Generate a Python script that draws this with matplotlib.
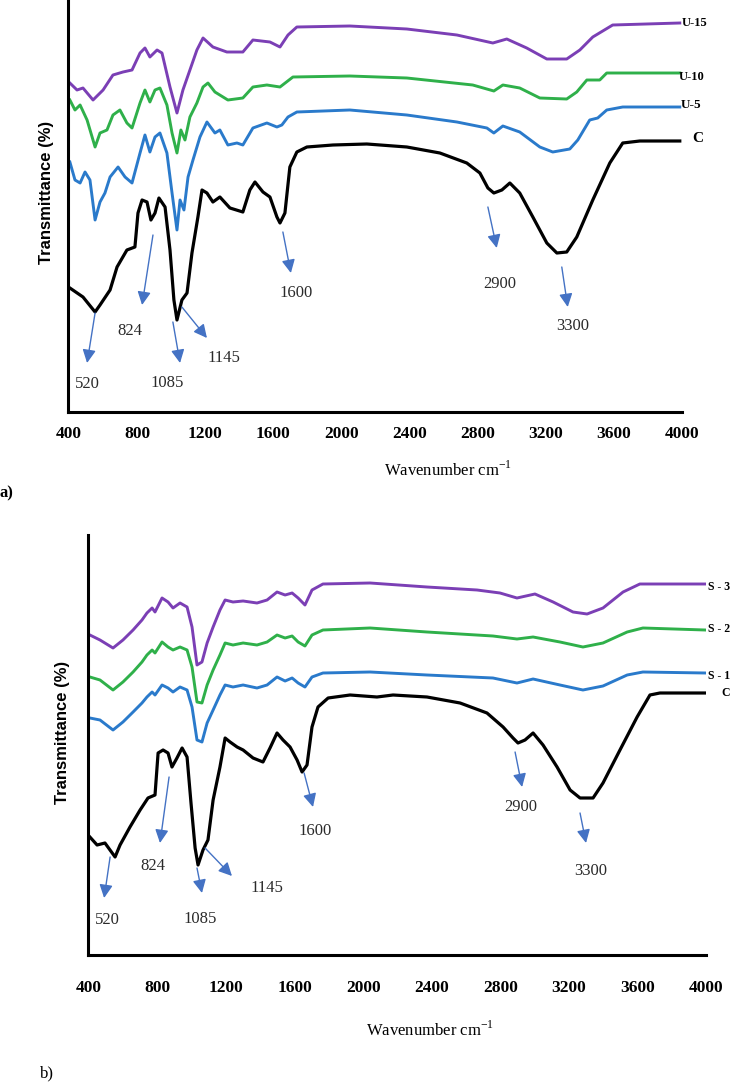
import numpy as np
import matplotlib
matplotlib.use("Agg")
from matplotlib import pyplot as plt

plt.rcParams['mathtext.fontset'] = 'custom'
plt.rcParams['mathtext.rm'] = 'Liberation Serif'
plt.rcParams['lines.solid_joinstyle'] = 'round'

# ---- panel a) : C, U-5, U-10, U-15  (wavenumber cm-1 / transmittance, a.u.)
wn_a_C = [405, 482, 553, 582, 641, 682, 740, 787, 805, 829, 858, 881, 905, 928, 964, 993, 1016, 1034,
          1063, 1093, 1122, 1157, 1181, 1210, 1245, 1286, 1345, 1421, 1462, 1492, 1539, 1580, 1621, 1639,
          1668, 1697, 1738, 1797, 1950, 2149, 2384, 2578, 2736, 2813, 2860, 2895, 2942, 2989, 3047, 3124,
          3206, 3265, 3323, 3382, 3476, 3576, 3652, 3752, 3987]
t_a_C = [124, 115, 100, 107, 122, 145, 162, 165, 199, 212, 210, 192, 199, 214, 205, 162, 112, 92,
         112, 119, 159, 195, 222, 219, 210, 215, 204, 200, 222, 230, 220, 215, 195, 189,
         199, 245, 260, 265, 267, 268, 265, 259, 249, 239, 224, 219, 222, 229, 219, 195,
         169, 159, 160, 175, 212, 249, 269, 271, 271]

wn_a_U5 = [405, 435, 465, 494, 523, 553, 582, 611, 641, 688, 729, 770, 817, 846, 875, 905, 934, 975,
           1005, 1034, 1052, 1075, 1099, 1128, 1169, 1210, 1257, 1286, 1333, 1386, 1421, 1480, 1562, 1621,
           1650, 1686, 1738, 2049, 2384, 2678, 2854, 2895, 2948, 3047, 3165, 3241, 3341, 3388, 3458, 3505,
           3558, 3652, 3987]
t_a_U5 = [250, 232, 229, 240, 232, 192, 210, 219, 235, 245, 235, 229, 259, 277, 260, 275, 279, 259,
          219, 182, 212, 202, 235, 252, 275, 290, 279, 282, 267, 269, 267, 284, 289, 285,
          287, 295, 300, 302, 297, 290, 284, 279, 286, 280, 265, 260, 263, 272, 292, 294,
          302, 305, 305]

wn_a_U10 = [405, 435, 465, 506, 553, 582, 623, 658, 699, 740, 770, 817, 846, 875, 905, 934, 975, 1005,
            1034, 1057, 1081, 1110, 1151, 1187, 1216, 1257, 1333, 1421, 1480, 1562, 1639, 1715, 2049, 2384,
            2771, 2895, 2948, 3047, 3165, 3323, 3382, 3441, 3517, 3558, 3987]
t_a_U10 = [312, 302, 307, 292, 265, 279, 282, 297, 302, 289, 284, 309, 322, 310, 322, 324, 307, 279,
           259, 282, 272, 295, 309, 325, 329, 320, 312, 314, 325, 327, 325, 335, 336, 334,
           327, 321, 327, 324, 314, 313, 320, 332, 332, 339, 339]

wn_a_U15 = [405, 447, 482, 541, 600, 658, 717, 770, 817, 846, 875, 917, 946, 993, 1034, 1069, 1110, 1151,
            1187, 1245, 1327, 1421, 1480, 1580, 1639, 1686, 1738, 2049, 2384, 2678, 2889, 2971, 3088, 3206,
            3323, 3400, 3476, 3593, 3987]
t_a_U15 = [329, 322, 324, 312, 322, 337, 340, 342, 359, 364, 355, 362, 359, 325, 299, 322, 342, 362,
           374, 365, 360, 360, 372, 370, 365, 377, 385, 386, 383, 377, 369, 373, 364, 353,
           353, 362, 375, 387, 389]

# ---- panel b) : C, S-1, S-2, S-3
wn_b_C = [405, 447, 493, 552, 581, 639, 698, 744, 785, 803, 832, 861, 884, 913, 943, 972, 995, 1019,
          1036, 1065, 1094, 1124, 1164, 1194, 1223, 1264, 1299, 1357, 1415, 1456, 1497, 1532, 1573, 1614,
          1643, 1672, 1701, 1736, 1795, 1923, 2080, 2174, 2372, 2565, 2722, 2816, 2874, 2903, 2944, 2991,
          3049, 3131, 3207, 3265, 3341, 3399, 3498, 3598, 3673, 3731, 3995]
t_b_C = [118, 110, 112, 98, 110, 128, 145, 157, 160, 202, 205, 202, 188, 197, 207, 198, 152, 107,
         90, 105, 115, 155, 188, 217, 213, 208, 205, 197, 193, 207, 222, 215, 208, 195,
         183, 190, 228, 248, 257, 260, 258, 260, 258, 252, 242, 228, 217, 212, 215, 222,
         210, 188, 165, 157, 157, 172, 205, 238, 260, 262, 262]

wn_b_S = [405, 464, 540, 598, 657, 709, 738, 768, 785, 826, 861, 890, 931, 972, 1001, 1030, 1059, 1089,
          1124, 1164, 1194, 1240, 1299, 1380, 1439, 1497, 1544, 1585, 1620, 1660, 1701, 1765, 2040, 2372,
          2757, 2897, 2991, 3148, 3282, 3399, 3540, 3632, 3995]
t_b_S1 = [237, 235, 225, 233, 243, 252, 258, 263, 260, 270, 267, 263, 268, 265, 248, 215, 213, 232,
          245, 260, 270, 268, 270, 267, 270, 278, 274, 277, 272, 268, 278, 282, 283, 280,
          277, 272, 276, 270, 265, 269, 280, 283, 282]
t_b_S2 = [278, 275, 265, 273, 283, 293, 300, 305, 302, 313, 308, 305, 308, 305, 288, 253, 252, 270,
          285, 300, 312, 310, 312, 310, 313, 320, 317, 319, 313, 309, 320, 325, 327, 323,
          319, 316, 318, 313, 308, 312, 323, 327, 325]

wn_b_S3 = [405, 464, 540, 598, 657, 709, 738, 768, 785, 826, 861, 890, 931, 972, 1001, 1030, 1059, 1089,
           1124, 1164, 1194, 1240, 1299, 1380, 1439, 1497, 1544, 1585, 1620, 1660, 1701, 1765, 2040, 2372,
           2664, 2798, 2897, 3002, 3108, 3224, 3306, 3399, 3516, 3614, 3995]
t_b_S3 = [320, 315, 307, 315, 325, 335, 342, 347, 343, 357, 353, 347, 352, 348, 328, 290, 293, 312,
          328, 345, 355, 353, 354, 352, 355, 363, 360, 362, 357, 350, 365, 371, 372, 368,
          365, 362, 357, 361, 353, 343, 341, 347, 363, 371, 371]

peak_labels = ['520', '824', '1085', '1145', '1600', '2900', '3300']
xticks = [400, 800, 1200, 1600, 2000, 2400, 2800, 3200, 3600, 4000]

purple = '#7b3fb5'
green = '#2fb04a'
blue = '#2a7acb'
arrow_c = '#4472c4'

W, H = 742, 1084
fig = plt.figure(figsize=(W / 100, H / 100), dpi=100)

def px_axes(l, t, r, b):
    return fig.add_axes([l / W, 1 - b / H, (r - l) / W, (b - t) / H])

def style(ax, ylim, pad):
    ax.set_xlim(394, 4000)
    ax.set_ylim(0, ylim)
    for s in ['top', 'right']:
        ax.spines[s].set_visible(False)
    for s in ['left', 'bottom']:
        ax.spines[s].set_linewidth(2.2)
    ax.set_yticks([])
    ax.set_xticks(xticks)
    ax.set_xticklabels([str(t) for t in xticks], fontfamily='Liberation Serif',
                       fontweight='bold', fontsize=12.5)
    ax.tick_params(axis='x', length=0, pad=pad)

def arrows(ax, tails, heads, texts):
    for lab, t, h, p in zip(peak_labels, tails, heads, texts):
        ax.annotate('', xy=h, xytext=t,
                    arrowprops=dict(arrowstyle='-|>', color=arrow_c, lw=1.0,
                                    mutation_scale=20, shrinkA=0, shrinkB=0))
        ax.text(p[0], p[1], lab, fontfamily='Liberation Serif', fontsize=12,
                color='#2a2a2a', ha='center', va='center')

# ---------------- a)
ax = px_axes(68, 0, 682, 412)
style(ax, 412, 10)
ax.plot(wn_a_U15, t_a_U15, color=purple, lw=2.1)
ax.plot(wn_a_U10, t_a_U10, color=green, lw=2.1)
ax.plot(wn_a_U5, t_a_U5, color=blue, lw=2.1)
ax.plot(wn_a_C, t_a_C, color='black', lw=2.3)
arrows(ax,
       [(553, 99), (893, 177), (1010, 90), (1063, 105), (1656, 180), (2860, 205), (3294, 145)],
       [(506, 49), (829, 107), (1052, 49), (1210, 74), (1703, 139), (2912, 164), (3329, 105)],
       [(506, 28), (758, 81), (975, 29), (1310, 54), (1732, 119), (2930, 128), (3358, 86)])
lab_kw = dict(fontfamily='Liberation Serif', fontweight='bold', va='center', ha='left', clip_on=False)
ax.text(3999, 389, 'U-15', fontsize=9, **lab_kw)
ax.text(3981, 335, 'U-10', fontsize=9, **lab_kw)
ax.text(3993, 307, 'U-5', fontsize=9.5, **lab_kw)
ax.text(4063, 274, 'C', fontsize=11, **lab_kw)

fig.text(47 / W, 1 - 192 / H, 'Transmittance (%)', rotation=90, ha='center', va='center',
         fontfamily='Liberation Sans', fontweight='bold', fontsize=12)
fig.text(448 / W, 1 - 470 / H, r'Wavenumber cm$^{-1}$', ha='center', va='center',
         fontfamily='Liberation Serif', fontsize=12)
fig.text(0 / W, 1 - 493 / H, 'a)', ha='left', va='center',
         fontfamily='Liberation Serif', fontweight='bold', fontsize=12)

# ---------------- b)
ax = px_axes(88, 535, 706, 955)
style(ax, 420, 18)
ax.plot(wn_b_S3, t_b_S3, color=purple, lw=2.1)
ax.plot(wn_b_S, t_b_S2, color=green, lw=2.1)
ax.plot(wn_b_S, t_b_S1, color=blue, lw=2.1)
ax.plot(wn_b_C, t_b_C, color='black', lw=2.3)
arrows(ax,
       [(523, 98), (867, 178), (1030, 87), (1077, 107), (1655, 182), (2886, 203), (3265, 142)],
       [(488, 57), (814, 112), (1059, 62), (1234, 79), (1707, 148), (2927, 168), (3300, 112)],
       [(505, 35), (773, 89), (1048, 36), (1439, 67), (1719, 124), (2921, 148), (3329, 84)])
ax.text(4012, 368, 'S - 3', fontsize=8.5, **lab_kw)
ax.text(4012, 326, 'S - 2', fontsize=8.5, **lab_kw)
ax.text(4012, 279, 'S - 1', fontsize=8.5, **lab_kw)
ax.text(4088, 262, 'C', fontsize=8.5, **lab_kw)

fig.text(62 / W, 1 - 732 / H, 'Transmittance (%)', rotation=90, ha='center', va='center',
         fontfamily='Liberation Sans', fontweight='bold', fontsize=12)
fig.text(430 / W, 1 - 1030 / H, r'Wavenumber cm$^{-1}$', ha='center', va='center',
         fontfamily='Liberation Serif', fontsize=12)
fig.text(40 / W, 1 - 1073 / H, 'b)', ha='left', va='center',
         fontfamily='Liberation Serif', fontsize=12)

fig.savefig('out.png', dpi=100)
